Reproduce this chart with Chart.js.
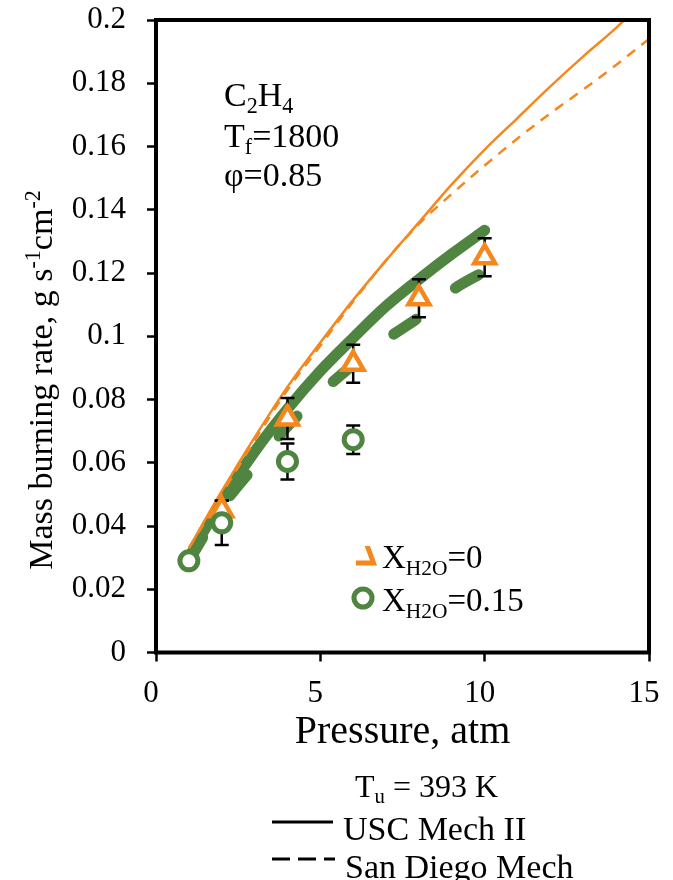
<!DOCTYPE html>
<html>
<head>
<meta charset="utf-8">
<script src="https://cdn.jsdelivr.net/npm/chart.js@4.4.1/dist/chart.umd.min.js"></script>
<style>
  html, body { margin: 0; padding: 0; background: #fff; }
  #wrap { width: 673px; height: 880px; }
</style>
</head>
<body>
<div id="wrap"><canvas id="burnChart" width="673" height="880"></canvas></div>
<script>
// simulated curves, X_H2O = 0.15 (green)
const pressureGreen = [1, 2, 3, 4, 5, 6, 7, 8, 9, 10];
const greenUSC = [0.030, 0.048, 0.0635, 0.077, 0.089, 0.0995, 0.1095, 0.118, 0.126, 0.1335];
const greenSanDiego = [0.029, 0.046, 0.059, 0.0715, 0.082, 0.091, 0.099, 0.106, 0.1145, 0.1205];

// simulated curves, X_H2O = 0 (orange)
const pressureOrangeUSC = [1, 2, 3, 4, 5, 6, 7, 8, 9, 10, 11, 12, 13, 14, 14.25];
const orangeUSC = [0.033, 0.051, 0.068, 0.084, 0.098, 0.1115, 0.124, 0.136, 0.148, 0.159, 0.169, 0.179, 0.1885, 0.1975, 0.2];
const pressureOrangeSD = [1, 2, 3, 4, 5, 6, 7, 8, 9, 10, 11, 12, 13, 14, 15];
const orangeSanDiego = [0.033, 0.050, 0.067, 0.083, 0.097, 0.111, 0.124, 0.1355, 0.145, 0.154, 0.1625, 0.1705, 0.178, 0.1858, 0.194];

// measurements
const pressureDry = [2, 4, 6, 8, 10];
const burnDry = [0.045, 0.074, 0.0913, 0.112, 0.125];
const errDry = [0.003, 0.0065, 0.006, 0.006, 0.006];
const pressureWet = [1, 2, 4, 6];
const burnWet = [0.029, 0.041, 0.0604, 0.0673];
const errWet = [0, 0.007, 0.0057, 0.0045];

const yTickLabels = ['0', '0.02', '0.04', '0.06', '0.08', '0.1', '0.12', '0.14', '0.16', '0.18', '0.2'];

const ORANGE = '#F5871F';
const GREEN = '#508541';
const SERIF = "'Liberation Serif', 'DejaVu Serif', serif";

function pts(xs, ys) {
    return xs.map((x, i) => ({ x: x, y: ys[i] }));
}

// draw a string made of plain / sub / sup pieces
function runsWidth(ctx, runs, size) {
    let w = 0;
    runs.forEach(([t, kind]) => {
        const s = kind ? size * 0.65 : size;
        ctx.font = `${s}px ${SERIF}`;
        w += ctx.measureText(t).width;
    });
    return w;
}
function drawRuns(ctx, x, y, runs, size) {
    ctx.textBaseline = 'alphabetic';
    ctx.textAlign = 'left';
    runs.forEach(([t, kind]) => {
        const s = kind ? size * 0.65 : size;
        let dy = 0;
        if (kind === 'sub') dy = size * 0.2;
        if (kind === 'sup') dy = -size * 0.36;
        ctx.font = `${s}px ${SERIF}`;
        ctx.fillText(t, x, y + dy);
        x += ctx.measureText(t).width;
    });
}

const errorBars = {
    id: 'errorBars',
    afterDatasetDraw(chart, args) {
        if (args.index !== 2) return; // after the last line, before the markers
        const { ctx, scales: { x, y } } = chart;
        ctx.save();
        ctx.strokeStyle = '#000';
        ctx.lineWidth = 2.5;
        [[pressureDry, burnDry, errDry], [pressureWet, burnWet, errWet]].forEach(([px, py, pe]) => {
            px.forEach((p, i) => {
                if (!pe[i]) return;
                const cx = x.getPixelForValue(p);
                const top = y.getPixelForValue(py[i] + pe[i]);
                const bot = y.getPixelForValue(py[i] - pe[i]);
                ctx.beginPath();
                ctx.moveTo(cx, top); ctx.lineTo(cx, bot);
                ctx.moveTo(cx - 7, top); ctx.lineTo(cx + 7, top);
                ctx.moveTo(cx - 7, bot); ctx.lineTo(cx + 7, bot);
                ctx.stroke();
            });
        });
        ctx.restore();
    }
};

const frameAndText = {
    id: 'frameAndText',
    afterDraw(chart) {
        const { ctx, chartArea: a } = chart;
        ctx.save();
        // plot frame
        ctx.strokeStyle = '#000';
        ctx.lineWidth = 4;
        ctx.strokeRect(a.left, a.top, a.right - a.left, a.bottom - a.top);

        ctx.fillStyle = '#000';
        // axis titles
        ctx.font = `40px ${SERIF}`;
        ctx.textAlign = 'center';
        ctx.textBaseline = 'alphabetic';
        ctx.fillText('Pressure, atm', (a.left + a.right) / 2, 743);

        const yRuns = [['Mass burning rate, g s', ''], ['-1', 'sup'], ['cm', ''], ['-2', 'sup']];
        const yw = runsWidth(ctx, yRuns, 34);
        ctx.save();
        ctx.translate(52, 380);
        ctx.rotate(-Math.PI / 2);
        drawRuns(ctx, -yw / 2, 0, yRuns, 34);
        ctx.restore();

        // conditions
        drawRuns(ctx, 224, 106, [['C', ''], ['2', 'sub'], ['H', ''], ['4', 'sub']], 34);
        drawRuns(ctx, 224, 147, [['T', ''], ['f', 'sub'], ['=1800', '']], 34);
        drawRuns(ctx, 224, 186, [['φ=0.85', '']], 34);

        // inner legend: the triangle shows only its right and bottom edges
        ctx.save();
        ctx.beginPath();
        ctx.rect(356, 546, 30, 30);
        ctx.clip();
        ctx.strokeStyle = ORANGE;
        ctx.lineWidth = 5;
        ctx.lineJoin = 'miter';
        ctx.beginPath();
        ctx.moveTo(367, 545);
        ctx.lineTo(373.5, 563);
        ctx.lineTo(355, 563);
        ctx.stroke();
        ctx.restore();

        ctx.strokeStyle = GREEN;
        ctx.lineWidth = 5;
        ctx.beginPath();
        ctx.arc(363, 598, 9, 0, Math.PI * 2);
        ctx.stroke();

        drawRuns(ctx, 382, 568, [['X', ''], ['H2O', 'sub'], ['=0', '']], 33);
        drawRuns(ctx, 382, 611, [['X', ''], ['H2O', 'sub'], ['=0.15', '']], 33);

        // bottom legend
        drawRuns(ctx, 355, 797, [['T', ''], ['u', 'sub'], [' = 393 K', '']], 32);
        ctx.font = `34px ${SERIF}`;
        ctx.textAlign = 'left';
        ctx.fillText('USC Mech II', 343, 840);
        ctx.fillText('San Diego Mech', 345, 878);
        ctx.strokeStyle = '#000';
        ctx.lineWidth = 3;
        ctx.beginPath();
        ctx.moveTo(272, 822); ctx.lineTo(333, 822);
        ctx.stroke();
        ctx.setLineDash([18, 8]);
        ctx.beginPath();
        ctx.moveTo(272, 859); ctx.lineTo(335, 859);
        ctx.stroke();
        ctx.restore();
    }
};

const ctx = document.getElementById('burnChart').getContext('2d');
const burnChart = new Chart(ctx, {
    type: 'scatter',
    data: {
        datasets: [
            {
                label: 'X_H2O=0.15',
                data: pts(pressureWet, burnWet),
                pointStyle: 'circle', radius: 9, borderWidth: 5,
                borderColor: GREEN, backgroundColor: '#fff', showLine: false
            },
            {
                label: 'X_H2O=0',
                data: pts(pressureDry, burnDry),
                pointStyle: 'triangle', radius: 12, borderWidth: 4.5,
                borderColor: ORANGE, backgroundColor: '#fff', showLine: false
            },
            {
                label: 'USC Mech II, X_H2O=0',
                data: pts(pressureOrangeUSC, orangeUSC),
                showLine: true, pointRadius: 0, borderColor: ORANGE, borderWidth: 2.5,
                cubicInterpolationMode: 'monotone'
            },
            {
                label: 'San Diego Mech, X_H2O=0',
                data: pts(pressureOrangeSD, orangeSanDiego),
                showLine: true, pointRadius: 0, borderColor: ORANGE, borderWidth: 2.5,
                borderDash: [10, 8], cubicInterpolationMode: 'monotone'
            },
            {
                label: 'USC Mech II, X_H2O=0.15',
                data: pts(pressureGreen, greenUSC),
                showLine: true, pointRadius: 0, borderColor: GREEN, borderWidth: 11,
                borderCapStyle: 'round', cubicInterpolationMode: 'monotone'
            },
            {
                label: 'San Diego Mech, X_H2O=0.15',
                data: pts(pressureGreen, greenSanDiego),
                showLine: true, pointRadius: 0, borderColor: GREEN, borderWidth: 11,
                borderCapStyle: 'round', borderDash: [27, 50], borderDashOffset: 0,
                cubicInterpolationMode: 'monotone'
            }
        ]
    },
    options: {
        responsive: false,
        animation: false,
        devicePixelRatio: 1,
        layout: { padding: { top: 20, right: 24, bottom: 0, left: 0 } },
        plugins: { legend: { display: false }, tooltip: { enabled: false } },
        scales: {
            x: {
                type: 'linear', min: 0, max: 15,
                afterFit: (s) => { s.height = 227.5; s.paddingLeft = 0; s.paddingRight = 0; },
                grid: { display: true, drawOnChartArea: false, drawTicks: true, tickLength: 9, tickWidth: 2.5, tickColor: '#000' },
                border: { display: false },
                ticks: {
                    stepSize: 5, padding: 14, labelOffset: -5, color: '#000',
                    font: { family: SERIF, size: 31 },
                    maxRotation: 0,
                    callback: (v) => String(v)
                }
            },
            y: {
                type: 'linear', min: 0, max: 0.2,
                afterFit: (s) => { s.width = 156; s.paddingTop = 0; s.paddingBottom = 0; },
                grid: { display: true, drawOnChartArea: false, drawTicks: true, tickLength: 9, tickWidth: 2.5, tickColor: '#000' },
                border: { display: false },
                ticks: {
                    stepSize: 0.02, padding: 21, color: '#000',
                    font: { family: SERIF, size: 31 },
                    callback: (v) => yTickLabels[Math.round(v / 0.02)]
                }
            }
        }
    },
    plugins: [errorBars, frameAndText]
});
</script>
</body>
</html>
